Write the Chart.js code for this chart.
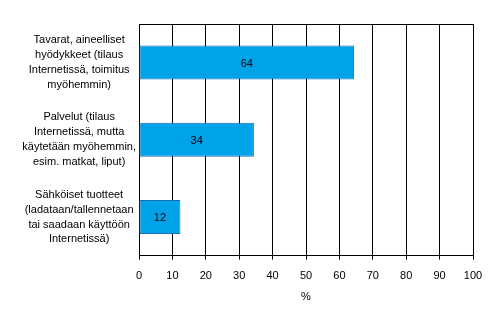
<!DOCTYPE html>
<html>
<head>
<meta charset="utf-8">
<script src="https://cdn.jsdelivr.net/npm/chart.js@4/dist/chart.umd.min.js"></script>
<style>
    html, body { margin: 0; padding: 0; background: #fff; }
    #wrap { width: 493px; height: 320px; }
</style>
</head>
<body>
<div id="wrap"><canvas id="chart"></canvas></div>
<script>
// luokat (rivitetty kuten alkuperäisessä)
const categories = [
    ["Tavarat, aineelliset", "hyödykkeet (tilaus", "Internetissä, toimitus", "myöhemmin)"],
    ["Palvelut (tilaus", "Internetissä, mutta", "käytetään myöhemmin,", "esim. matkat, liput)"],
    ["Sähköiset tuotteet", "(ladataan/tallennetaan", "tai saadaan käyttöön", "Internetissä)"]
];
const values = [64.4, 34.4, 12.4];
const xTicks = [0, 10, 20, 30, 40, 50, 60, 70, 80, 90, 100];
const axisTitle = "%";

const fontFamily = "'Liberation Sans', Arial, sans-serif";

// arvot palkkien keskelle + yläreuna
const barLabels = {
    id: "barLabels",
    afterDatasetsDraw(chart) {
        const ctx = chart.ctx;
        const meta = chart.getDatasetMeta(0);
        ctx.save();
        ctx.font = "11px " + fontFamily;
        ctx.fillStyle = "#000";
        ctx.textAlign = "center";
        ctx.textBaseline = "middle";
        meta.data.forEach((bar, i) => {
            ctx.fillText(Math.round(values[i]), (bar.x + bar.base) / 2, bar.y + 1);
        });
        ctx.restore();
    },
    beforeDatasetsDraw(chart) {
        const a = chart.chartArea;
        const ctx = chart.ctx;
        ctx.save();
        ctx.strokeStyle = "#000";
        ctx.lineWidth = 1;
        ctx.beginPath();
        ctx.moveTo(a.left, a.top + 0.5);
        ctx.lineTo(a.right, a.top + 0.5);
        ctx.stroke();
        ctx.restore();
    }
};

new Chart(document.getElementById("chart"), {
    type: "bar",
    data: {
        labels: categories,
        datasets: [{
            data: values,
            backgroundColor: "#00A2E8",
            borderColor: "#1C6DB8",
            borderWidth: 1,
            borderSkipped: false,
            categoryPercentage: 0.88,
            barPercentage: 0.5
        }]
    },
    options: {
        indexAxis: "y",
        animation: false,
        responsive: true,
        maintainAspectRatio: false,
        layout: { padding: { top: 24, right: 20, bottom: 16, left: 0 } },
        plugins: {
            legend: { display: false },
            tooltip: { enabled: false }
        },
        scales: {
            x: {
                min: 0,
                max: 100,
                afterBuildTicks(scale) {
                    scale.ticks = xTicks.map(v => ({ value: v }));
                },
                grid: {
                    color: "#000",
                    lineWidth: 1,
                    tickLength: 4
                },
                border: { color: "#000", width: 1 },
                ticks: {
                    color: "#000",
                    padding: 10,
                    font: { family: fontFamily, size: 11 }
                },
                title: {
                    display: true,
                    text: axisTitle,
                    color: "#000",
                    padding: { top: -2, bottom: 0 },
                    font: { family: fontFamily, size: 11 }
                }
            },
            y: {
                afterFit(scale) {
                    scale.width = 139;
                    scale.paddingTop = 0;
                    scale.paddingBottom = 0;
                },
                grid: { display: false, drawTicks: false },
                border: { color: "#000", width: 1 },
                ticks: {
                    color: "#000",
                    padding: 3,
                    crossAlign: "center",
                    font: { family: fontFamily, size: 11, lineHeight: 1.36 }
                }
            }
        }
    },
    plugins: [barLabels]
});
</script>
</body>
</html>
